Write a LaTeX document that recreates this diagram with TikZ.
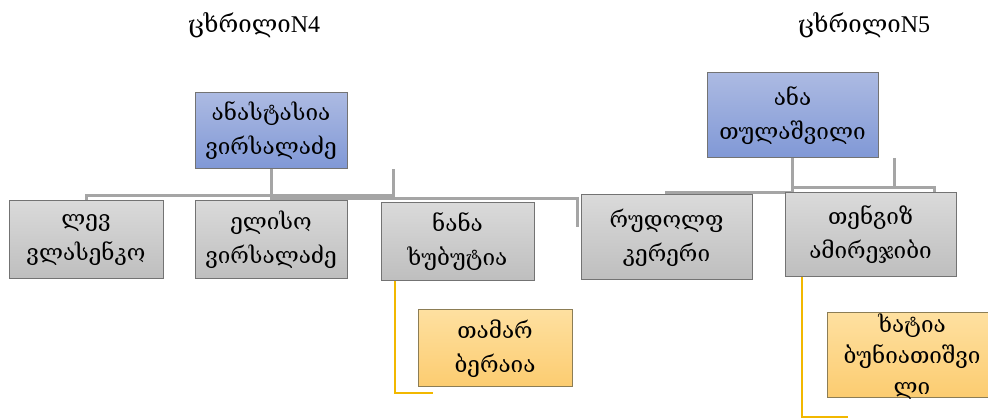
\documentclass[tikz,border=0pt]{standalone}
\usepackage{fontspec}
\setmainfont{DejaVu Serif}
\newfontfamily\latfont{Liberation Serif}
\definecolor{lineGray}{RGB}{165,165,165}
\definecolor{lineGold}{RGB}{242,184,0}
\definecolor{edgeGray}{RGB}{115,115,115}
\definecolor{blueTop}{RGB}{172,186,226}
\definecolor{blueBot}{RGB}{128,152,214}
\definecolor{grayTop}{RGB}{218,218,218}
\definecolor{grayBot}{RGB}{190,190,190}
\definecolor{goldTop}{RGB}{254,224,160}
\definecolor{goldBot}{RGB}{252,204,112}
\definecolor{goldEdge}{RGB}{140,125,85}
\tikzset{
  boxbase/.style={draw=edgeGray, line width=1pt, align=center, inner sep=0pt,
    font=\fontsize{22.5}{34}\selectfont},
  bluebox/.style={boxbase, top color=blueTop, bottom color=blueBot},
  graybox/.style={boxbase, top color=grayTop, bottom color=grayBot},
  goldbox/.style={boxbase, draw=goldEdge, top color=goldTop, bottom color=goldBot},
  gline/.style={draw=lineGray, line width=3pt},
  yline/.style={draw=lineGold, line width=2.5pt},
  titletext/.style={font=\fontsize{24}{28}\selectfont, inner sep=0pt}
}
\begin{document}
\begin{tikzpicture}[x=1pt, y=-1pt]
\useasboundingbox (0,0) rectangle (988,419);
\clip (0,0) rectangle (988,419);
% titles
\node[titletext] (title4) at (254,25) {ცხრილი{\latfont N4}};
\node[titletext] (title5) at (864,25) {ცხრილი{\latfont N5}};
% connector coordinates (free ends)
\coordinate (j1) at (271,196);
\coordinate (a1) at (393,169);
\coordinate (b1) at (577,227);
\coordinate (j3) at (792.5,192.5);
\coordinate (c1) at (894,158);
\coordinate (j2) at (792.5,188);
\coordinate (c2) at (934,193);
\coordinate (e1) at (433,393);
\coordinate (e2) at (848,417);
% gray connectors (drawn first)
\draw[gline] (j1) -- (j1 |- a1);
\draw[gline] (86,201) |- (j1) -| (a1);
\draw[gline] (271,169) -- (271,201);
\draw[gline] (271,199) -| (b1);
\draw[gline] (792.5,158) -- (j3);
\draw[gline] (c1) |- (j2);
\draw[gline] (j2) -| (c2);
\draw[gline] (666.5,195) |- (j3);
% boxes
\node[bluebox, minimum width=152pt, minimum height=76pt] (T1) at (271,131) {ანასტასია\\ვირსალაძე};
\node[bluebox, minimum width=171pt, minimum height=85pt] (T2) at (792.5,115.5) {ანა\\თულაშვილი};
\node[graybox, minimum width=154pt, minimum height=78pt] (lev) at (86,240) {ლევ\\ვლასენკო};
\node[graybox, minimum width=152pt, minimum height=78pt] (elis) at (271,240) {ელისო\\ვირსალაძე};
\node[graybox, minimum width=153pt, minimum height=78pt] (nana) at (457.5,242) {ნანა\\ხუბუტია};
\node[graybox, minimum width=171pt, minimum height=85pt] (rudolf) at (666.5,237.5) {რუდოლფ\\კერერი};
\node[graybox, minimum width=171pt, minimum height=84pt] (tengiz) at (870.5,235) {თენგიზ\\ამირეჯიბი};
\node[goldbox, minimum width=154pt, minimum height=77pt] (tamar) at (495,348.5) {თამარ\\ბერაია};
\node[goldbox, minimum width=170pt, minimum height=85pt] (khatia) at (912,355.5) {};
\node[align=center, inner sep=0pt, font=\fontsize{22.5}{31}\selectfont] (khatiatext) at (912,357) {ხატია\\ბუნიათიშვი\\ლი};
% gold connectors
\draw[yline] ([xshift=-62.5pt]nana.south) |- (e1);
\draw[yline] ([xshift=-68.5pt]tengiz.south) |- (e2);
\end{tikzpicture}
\end{document}
